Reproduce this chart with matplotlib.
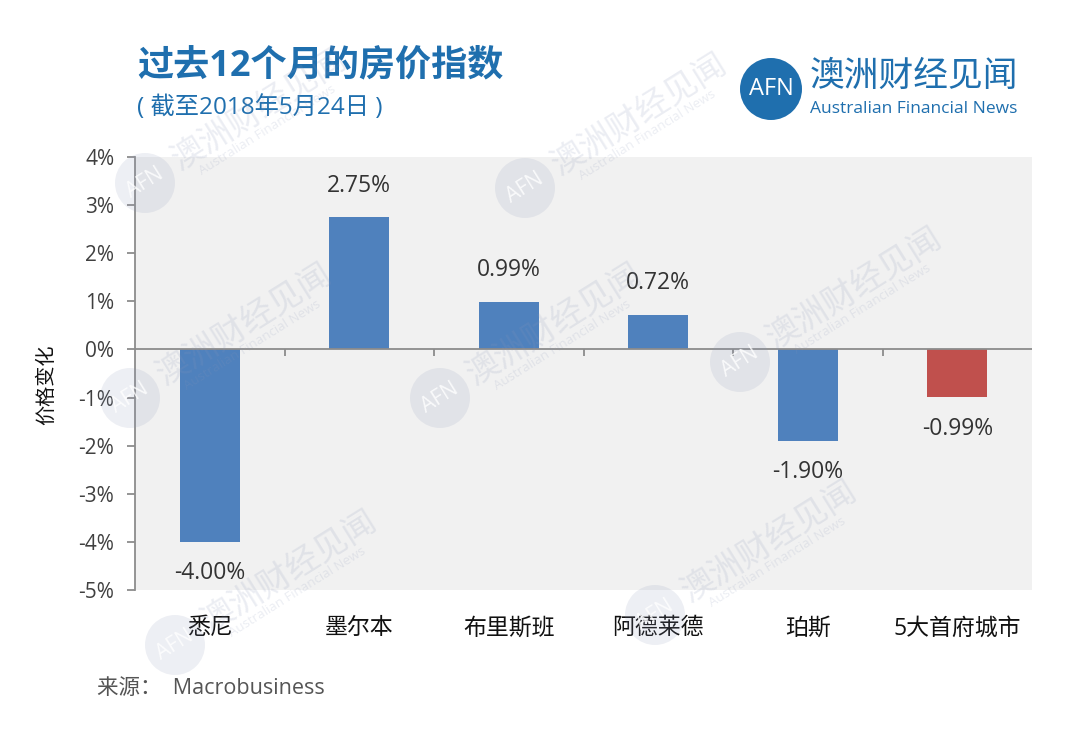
import numpy as np
import matplotlib.pyplot as plt
from matplotlib.patches import Ellipse

plt.rcParams['font.family'] = ['Open Sans', 'Noto Sans CJK SC', 'DejaVu Sans']

cities = ["悉尼", "墨尔本", "布里斯班", "阿德莱德", "珀斯", "5大首府城市"]
changes = [-4.00, 2.75, 0.99, 0.72, -1.90, -0.99]
bar_colors = ["#4f81bd", "#4f81bd", "#4f81bd", "#4f81bd", "#4f81bd", "#c0504d"]
yticks = [4, 3, 2, 1, 0, -1, -2, -3, -4, -5]

W, H = 1080, 743
BLUE = "#1f6fae"

fig = plt.figure(figsize=(W / 100, H / 100), dpi=100)
ax = fig.add_axes([135 / W, 1 - 590 / H, 897 / W, 433 / H])
ax.set_facecolor("#f1f1f1")

x = np.arange(len(cities))
ax.bar(x, changes, width=0.4, color=bar_colors, zorder=2)
ax.axhline(0, color="#8c8c8c", lw=1.3, zorder=3)
# 分类之间的小刻度
ax.vlines(x[:-1] + 0.5, -0.13, 0, color="#8c8c8c", lw=1.3, zorder=3)

for i, v in enumerate(changes):
    off = 14 if v >= 0 else -14
    ax.annotate(f"{v:.2f}%", (i, v), xytext=(0, off), textcoords="offset points",
                ha="center", va="bottom" if v >= 0 else "top",
                fontsize=16.5, color="#333333", zorder=4)

ax.set_xlim(-0.5, len(cities) - 0.5)
ax.set_ylim(-5, 4)
ax.set_yticks(yticks)
ax.set_yticklabels([f"{t}%" for t in yticks], fontsize=15, color="#404040")
ax.set_xticks(x)
ax.set_xticklabels(cities, fontsize=16.5, color="#111111")
ax.tick_params(axis="x", length=0, pad=19)
ax.tick_params(axis="y", length=6, width=1.3, color="#8c8c8c", pad=9)
for s in ["top", "right", "bottom"]:
    ax.spines[s].set_visible(False)
ax.spines["left"].set_color("#8c8c8c")
ax.spines["left"].set_linewidth(1.3)
fig.text(47 / W, 1 - 385 / H, "价格变化", rotation=90, fontsize=14.5, color="#111111",
         ha="center", va="center")

# 标题
fig.text(137 / W, 1 - 66 / H, "过去12个月的房价指数", fontsize=26, fontweight="bold",
         color=BLUE, va="center")
fig.text(137 / W, 1 - 108 / H, "( 截至2018年5月24日 )", fontsize=17.5, color=BLUE, va="center")
fig.text(97 / W, 1 - 688 / H, "来源：  Macrobusiness", fontsize=15.5, color="#555555", va="center")

# logo
fig.patches.append(Ellipse((771 / W, 1 - 89 / H), 62 / W, 62 / H, transform=fig.transFigure,
                           facecolor=BLUE, edgecolor="none"))
fig.text(771 / W, 1 - 89 / H, "AFN", fontsize=17, color="white", ha="center", va="center")
fig.text(810 / W, 1 - 77 / H, "澳洲财经见闻", fontsize=25, color=BLUE, va="center",
         fontweight="medium")
fig.text(810 / W, 1 - 109 / H, "Australian Financial News", fontsize=12.5, color=BLUE, va="center")


# 水印
def watermark(cx, cy, ang=32):
    a = np.deg2rad(ang)
    along = np.array([np.cos(a), np.sin(a)])
    below = np.array([np.sin(a), -np.cos(a)])
    c = np.array([cx, H - cy])
    wm = "#8a96b8"
    fig.patches.append(Ellipse((c[0] / W, c[1] / H), 60 / W, 60 / H, transform=fig.transFigure,
                               facecolor=wm, alpha=0.15, edgecolor="none", zorder=5))
    fig.text(c[0] / W, c[1] / H, "AFN", fontsize=15, color="white", alpha=0.8, rotation=ang,
             ha="center", va="center", rotation_mode="anchor", zorder=6)
    p = c + along * 36
    fig.text(p[0] / W, p[1] / H, "澳洲财经见闻", fontsize=24, color=wm, alpha=0.17, rotation=ang,
             ha="left", va="center", rotation_mode="anchor", zorder=6)
    q = c + along * 52 + below * 20
    fig.text(q[0] / W, q[1] / H, "Australian Financial News", fontsize=9.5, color=wm, alpha=0.17,
             rotation=ang, ha="left", va="center", rotation_mode="anchor", zorder=6)


for cx, cy in [(145, 183), (525, 188), (130, 398), (440, 398), (740, 362), (175, 645), (655, 615)]:
    watermark(cx, cy)

plt.savefig("out.png", dpi=100)
